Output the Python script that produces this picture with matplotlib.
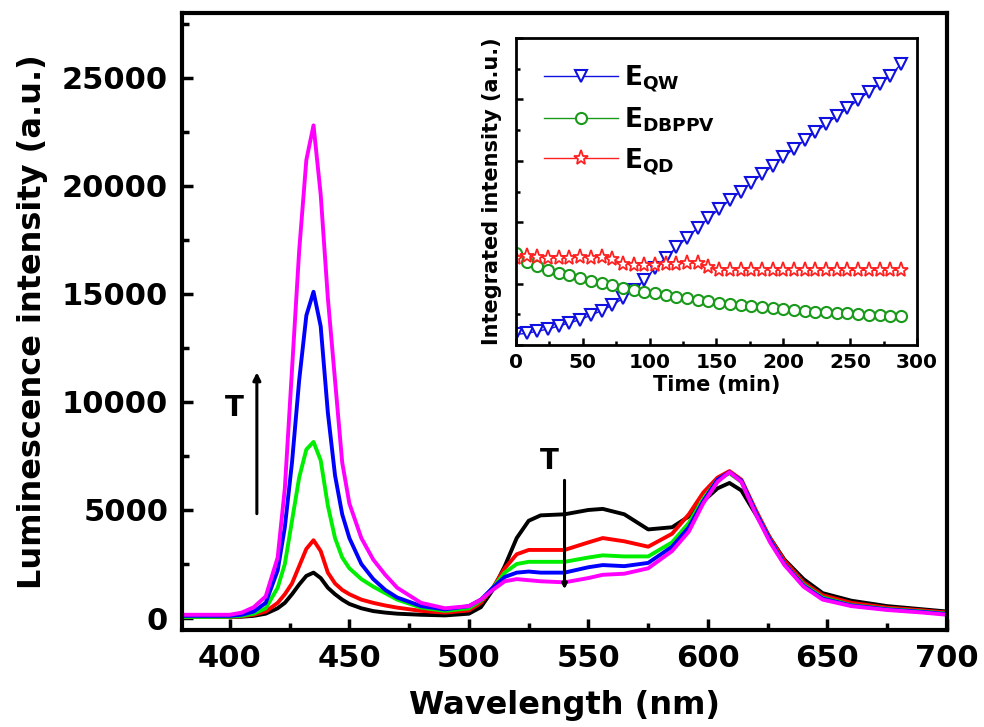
import matplotlib
matplotlib.use('Agg')
import matplotlib.pyplot as plt
from matplotlib.ticker import MultipleLocator, NullFormatter

plt.rcParams['font.family'] = ['DejaVu Sans']
plt.rcParams['font.weight'] = 'bold'
plt.rcParams['mathtext.fontset'] = 'dejavusans'

# %% spectra
wavelength = [380, 390, 400, 405, 410, 415, 420, 423, 426, 429, 432, 435, 438, 441, 444,
              447, 450, 455, 460, 465, 470, 480, 490, 500, 505, 510, 515, 520, 525, 530,
              540, 550, 556, 565, 575, 585, 592, 598, 604, 609, 614, 620, 626, 632, 640,
              648, 660, 675, 690, 700]

black = [50, 50, 50, 60, 100, 200, 450, 700, 1100, 1550, 1950, 2100, 1850, 1400, 1100,
         850, 650, 450, 320, 250, 200, 150, 120, 200, 500, 1300, 2400, 3700, 4500, 4750,
         4800, 5000, 5050, 4800, 4100, 4200, 4700, 5400, 6000, 6250, 5900, 4800, 3700, 2700, 1800,
         1150, 800, 550, 400, 300]
red = [50, 50, 50, 80, 150, 300, 700, 1100, 1600, 2400, 3200, 3600, 3100, 2100, 1600,
       1300, 1100, 850, 700, 580, 480, 330, 250, 350, 700, 1400, 2300, 2950, 3150, 3150,
       3150, 3500, 3700, 3550, 3300, 3900, 4800, 5800, 6500, 6800, 6400, 5000, 3700, 2650, 1650,
       1050, 700, 480, 350, 250]
green = [50, 50, 60, 100, 200, 450, 1400, 2500, 4500, 6500, 7800, 8150, 7300, 5200, 3700,
         2800, 2300, 1800, 1450, 1150, 850, 480, 330, 450, 800, 1400, 2100, 2500, 2600, 2600,
         2600, 2800, 2900, 2850, 2850, 3500, 4400, 5500, 6400, 6700, 6300, 4900, 3600, 2500, 1550,
         950, 600, 420, 300, 200]
blue = [100, 100, 100, 150, 300, 700, 2200, 4200, 7200, 11000, 14000, 15100, 13500, 9500, 6600,
        4800, 3700, 2500, 1800, 1300, 950, 550, 400, 550, 850, 1400, 1900, 2100, 2150, 2100,
        2100, 2350, 2450, 2400, 2550, 3300, 4200, 5400, 6400, 6750, 6350, 4900, 3600, 2500, 1500,
        900, 580, 400, 280, 180]
magenta = [150, 150, 150, 250, 500, 1000, 2800, 6000, 11500, 17000, 21200, 22800, 19600, 14800, 11000,
           7200, 5300, 3700, 2700, 2000, 1400, 700, 450, 550, 850, 1300, 1700, 1800, 1750, 1700,
           1650, 1850, 2000, 2050, 2300, 3100, 4000, 5300, 6300, 6750, 6300, 4800, 3500, 2450, 1450,
           850, 550, 370, 250, 150]

# %% inset: integrated intensities (arbitrary units)
time_min = [0, 8, 16, 24, 32, 40, 48, 56, 64, 72, 80, 88, 96, 104, 112, 120, 128, 136, 144,
            152, 160, 168, 176, 184, 192, 200, 208, 216, 224, 232, 240, 248, 256, 264, 272, 280, 288]
e_qw = [0.035, 0.038, 0.045, 0.052, 0.062, 0.072, 0.083, 0.097, 0.112, 0.130, 0.152, 0.180,
        0.212, 0.250, 0.285, 0.318, 0.350, 0.382, 0.413, 0.443, 0.472, 0.500, 0.528, 0.556,
        0.584, 0.612, 0.640, 0.667, 0.694, 0.720, 0.746, 0.772, 0.798, 0.825, 0.850, 0.877, 0.915]
e_dbppv = [0.300, 0.272, 0.258, 0.246, 0.236, 0.227, 0.218, 0.210, 0.202, 0.194, 0.186, 0.180,
           0.174, 0.168, 0.163, 0.158, 0.153, 0.148, 0.143, 0.138, 0.134, 0.130, 0.126, 0.123,
           0.120, 0.117, 0.114, 0.111, 0.109, 0.107, 0.105, 0.103, 0.101, 0.099, 0.097, 0.095, 0.093]
e_qd = [0.285, 0.290, 0.287, 0.285, 0.284, 0.285, 0.286, 0.285, 0.286, 0.280, 0.265, 0.262,
        0.260, 0.262, 0.264, 0.265, 0.268, 0.266, 0.255, 0.245, 0.244, 0.245, 0.245, 0.246,
        0.245, 0.246, 0.246, 0.245, 0.245, 0.244, 0.245, 0.244, 0.243, 0.244, 0.243, 0.244, 0.243]

# %% main plot
fig = plt.figure(figsize=(9.84, 7.27), dpi=100)
ax = fig.add_axes([0.185, 0.1334, 0.7774, 0.8487])

for ys, c in [(black, 'black'), (red, '#ff0000'), (green, '#00ee00'),
              (blue, '#0000ff'), (magenta, '#ff00ff')]:
    ax.plot(wavelength, ys, color=c, lw=2.8)

ax.set_xlim(380, 700)
ax.set_ylim(-556, 28000)
ax.xaxis.set_major_locator(MultipleLocator(50))
ax.xaxis.set_minor_locator(MultipleLocator(25))
ax.yaxis.set_major_locator(MultipleLocator(5000))
ax.yaxis.set_minor_locator(MultipleLocator(2500))
ax.tick_params(which='both', direction='in', width=2.5, labelsize=22, top=False, right=False)
ax.tick_params(which='major', length=8, pad=10)
ax.tick_params(which='minor', length=5)
for s in ax.spines.values():
    s.set_linewidth(3)
ax.set_xlabel('Wavelength (nm)', fontsize=23, fontweight='bold', labelpad=12)
ax.set_ylabel('Luminescence intensity (a.u.)', fontsize=23, fontweight='bold', labelpad=10)

# T arrows
ax.annotate('', xy=(411.3, 11500), xytext=(411.3, 4700),
            arrowprops=dict(arrowstyle='-|>', color='black', lw=2.2, mutation_scale=11))
ax.text(402, 9700, 'T', fontsize=20, fontweight='bold', ha='center', va='center')
ax.annotate('', xy=(540, 1200), xytext=(540, 6500),
            arrowprops=dict(arrowstyle='-|>', color='black', lw=2.2, mutation_scale=7))
ax.text(533.5, 7250, 'T', fontsize=20, fontweight='bold', ha='center', va='center')

# %% inset
ins = fig.add_axes([0.5244, 0.5254, 0.4075, 0.4223])
ins.plot(time_min, e_qw, color='#1010e0', lw=1, marker='v', ms=8, mfc='white',
         mew=1.5, label=r'$\mathbf{E_{QW}}$')
ins.plot(time_min, e_dbppv, color='#1a9a1a', lw=1, marker='o', ms=8, mfc='white',
         mew=1.5, label=r'$\mathbf{E_{DBPPV}}$')
ins.plot(time_min, e_qd, color='#ff2020', lw=1, marker='*', ms=11, mfc='white',
         mew=1.3, label=r'$\mathbf{E_{QD}}$')
ins.set_xlim(0, 300)
ins.set_ylim(0, 1)
ins.xaxis.set_major_locator(MultipleLocator(50))
ins.xaxis.set_minor_locator(MultipleLocator(25))
ins.yaxis.set_major_locator(MultipleLocator(0.2))
ins.yaxis.set_minor_locator(MultipleLocator(0.1))
ins.yaxis.set_major_formatter(NullFormatter())
ins.tick_params(which='both', direction='in', width=1.8, labelsize=14.5, top=False, right=False)
ins.tick_params(which='major', length=5, pad=6)
ins.tick_params(which='minor', length=3)
for s in ins.spines.values():
    s.set_linewidth(2)
ins.set_xlabel('Time (min)', fontsize=15, fontweight='bold', labelpad=2)
ins.set_ylabel('Integrated intensity (a.u.)', fontsize=15, fontweight='bold', labelpad=4)
ins.legend(loc='upper left', frameon=False, fontsize=19, handlelength=2.8,
           handletextpad=0.25, borderaxespad=0.2, labelspacing=0.45,
           bbox_to_anchor=(0.03, 0.97))

fig.savefig('out.png', dpi=100)
